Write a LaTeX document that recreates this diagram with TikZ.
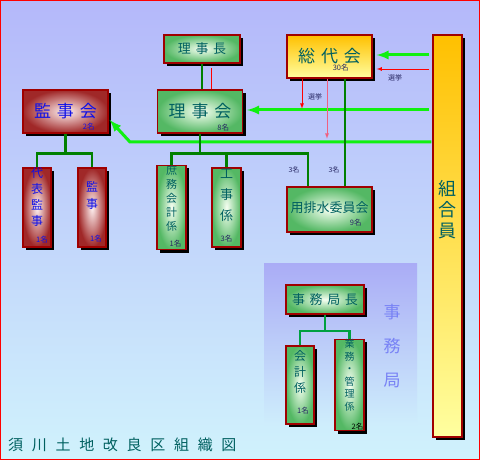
\documentclass[tikz,border=0pt]{standalone}
\usepackage{fontspec}
\newfontfamily\jp{Noto Sans CJK JP}
\usetikzlibrary{calc, arrows, shadows}

\definecolor{bgtop}{RGB}{180,184,250}
\definecolor{bgmid}{RGB}{196,212,250}
\definecolor{bgbot}{RGB}{208,242,252}
\definecolor{panel}{RGB}{170,172,246}
\definecolor{boxrim}{RGB}{160,0,0}
\definecolor{grnout}{RGB}{84,184,100}
\definecolor{grnin}{RGB}{246,255,242}
\definecolor{redout}{RGB}{160,40,40}
\definecolor{redin}{RGB}{255,242,242}
\definecolor{yeltop}{RGB}{255,192,0}
\definecolor{yelbot}{RGB}{255,255,160}
\definecolor{tealtxt}{RGB}{0,96,96}
\definecolor{bluetxt}{RGB}{16,16,230}
\definecolor{navytxt}{RGB}{40,40,100}
\definecolor{darkline}{RGB}{0,128,0}
\definecolor{brightline}{RGB}{16,240,16}
\definecolor{pinkline}{RGB}{240,96,128}
\definecolor{kyokutxt}{RGB}{120,130,245}
\definecolor{kyokuline}{RGB}{0,160,64}

\newcommand{\gp}{\hspace{.35em}}

\tikzset{
  box/.style={draw=boxrim, line width=1.4pt, inner sep=0pt,
    drop shadow={shadow xshift=3pt, shadow yshift=-3pt, fill=black, opacity=1}},
  grnbox/.style={box, inner color=grnin, outer color=grnout, text=tealtxt},
  redbox/.style={box, inner color=redin, outer color=redout, text=bluetxt},
  yelbox/.style={box, top color=yeltop, bottom color=yelbot, text=tealtxt},
  widebox/.style={minimum width=85pt, minimum height=43pt, font=\fontsize{17}{17}\jp},
  tallbox/.style={minimum width=28pt, minimum height=79pt, align=center},
  count/.style={font=\fontsize{7.5}{7.5}\jp, inner sep=0pt},
  note/.style={font=\fontsize{7}{7}\jp, text=navytxt, inner sep=0pt},
  dkline/.style={draw=darkline, line width=2.4pt},
  brline/.style={draw=brightline, line width=3pt, >=latex},
  rdline/.style={draw=red, line width=.8pt, >=latex}
}

\begin{document}
\begin{tikzpicture}[x=1pt,y=-1pt]
    \useasboundingbox (0,0) rectangle (480,460);
    \shade[top color=bgtop, middle color=bgmid, bottom color=bgbot] (0,0) rectangle (480,460);
    \shade[top color=panel, bottom color=bgbot!85!bgmid] (264,263) rectangle (417,425);

    % upper boxes
    \node [grnbox, minimum width=76pt, minimum height=28pt, font=\fontsize{13}{13}\jp]
        (rijicho) at (202,49) {理\gp 事\gp 長};
    \node [yelbox, widebox] (sodai) at (329.5,56.5) {\raisebox{3pt}{総\gp 代\gp 会}};
    \node [redbox, widebox] (kansakai) at (65.5,111.5) {\raisebox{2pt}{監\gp 事\gp 会}};
    \node [grnbox, widebox] (rijikai) at (200,111.5) {\raisebox{2pt}{理\gp 事\gp 会}};
    \node [yelbox, minimum width=29pt, minimum height=402pt] (kumiai) at (447.5,236) {};
    \node [font=\fontsize{18}{21}\jp, text=tealtxt, align=center, inner sep=0pt]
        (kumiai-t) at (447.5,210) {組\\合\\員};

    % lower boxes
    \node [redbox, tallbox, font=\fontsize{12}{16}\jp] (daihyo) at (37,207.5) {代\\表\\監\\事\\[5pt]};
    \node [redbox, tallbox, font=\fontsize{12}{17}\jp] (kanji) at (92,207.5) {監\\事\\[8pt]};
    \node [grnbox, tallbox, minimum width=29pt, font=\fontsize{11}{14}\jp]
        (shomu) at (171.5,207.5) {庶\\務\\会\\計\\係\\[5pt]};
    \node [grnbox, tallbox, minimum width=29pt, font=\fontsize{13}{21}\jp]
        (koji) at (226.5,207.5) {工\\事\\係\\[4pt]};
    \node [grnbox, minimum width=85pt, minimum height=45pt, font=\fontsize{13}{13}\jp]
        (yohaisui) at (329.5,209.5) {\raisebox{4pt}{用排水委員会}};

    % counts
    \node [count, text=navytxt] (sodai-n) at ($(sodai.south east)+(-32,-11)$) {30名};
    \node [count, text=bluetxt] (kansakai-n) at ($(kansakai.south east)+(-20,-7)$) {2名};
    \node [count, text=navytxt] (rijikai-n) at ($(rijikai.south east)+(-20,-6)$) {8名};
    \node [count, text=navytxt] (yohaisui-n) at ($(yohaisui.south east)+(-17,-10)$) {9名};
    \node [count, text=bluetxt] (daihyo-n) at ($(daihyo.south)+(5,-8)$) {1名};
    \node [count, text=bluetxt] (kanji-n) at ($(kanji.south)+(4,-9)$) {1名};
    \node [count, text=navytxt] (shomu-n) at ($(shomu.south)+(4,-7)$) {1名};
    \node [count, text=navytxt] (koji-n) at ($(koji.south)+(0,-9)$) {3名};

    % bright lines from kumiai
    \coordinate (bend) at (130,142);
    \draw [brline, ->] ([xshift=-3pt,yshift=1.5pt]kumiai.west |- sodai.east)
        -- ([xshift=4pt,yshift=1.5pt]sodai.east);
    \draw [brline, ->] ([xshift=-3pt,yshift=1.5pt]kumiai.west |- rijikai.east)
        -- ([xshift=4pt,yshift=1.5pt]rijikai.east);
    \draw [brline, ->] ([xshift=-1pt]kumiai.west |- bend) -- (bend)
        -- ([xshift=1pt,yshift=-8.5pt]kansakai.east);

    % red lines
    \coordinate (senkyo1) at ($(sodai.south)+(-27.5,30)$);
    \coordinate (senkyo2) at ($(sodai.south)+(-2.5,60)$);
    \draw [rdline, ->] ([xshift=-3pt,yshift=-12.5pt]kumiai.west |- sodai.east)
        -- ([xshift=4pt,yshift=-12.5pt]sodai.east);
    \draw [rdline, ->] ([xshift=-27.5pt]sodai.south) -- (senkyo1);
    \draw [rdline, draw=pinkline, ->] ([xshift=-2.5pt]sodai.south) -- (senkyo2);
    \draw [rdline] ([xshift=11pt]rijikai.north) -- ([xshift=11pt,yshift=-4pt]rijikai.north |- rijicho.south);
    \node [note] (senkyo-a) at (395,78) {選挙};
    \node [note] (senkyo-b) at (315,97) {選挙};

    % dark lines
    \coordinate (kj-br) at ($(kansakai.south)+(0,20)$);
    \coordinate (rj-br) at ($(rijikai.south)+(0,20)$);
    \draw [dkline] (rijicho.south) -- (rijicho.south |- rijikai.north);
    \draw [dkline] (kansakai.south) -- (kj-br);
    \draw [dkline] (daihyo.north) |- (kj-br) -| (kanji.north);
    \draw [dkline] (rijikai.south) -- (rj-br);
    \draw [dkline] (shomu.north) |- (rj-br) -| ([xshift=-21.5pt]yohaisui.north);
    \draw [dkline] (koji.north) -- (koji.north |- rj-br);
    \draw [dkline] ([xshift=15.5pt]sodai.south) -- ([xshift=15.5pt]sodai.south |- yohaisui.north);
    \node [note] (three-a) at (294,170) {3名};
    \node [note] (three-b) at (334,170) {3名};

    % jimukyoku
    \node [grnbox, minimum width=78pt, minimum height=29pt, font=\fontsize{13}{13}\jp]
        (kyokucho) at (325,299.5) {事\gp 務\gp 局\gp 長};
    \node [grnbox, tallbox, minimum height=78pt, font=\fontsize{12}{16}\jp]
        (kaikei) at (300,385) {会\\計\\係\\[12pt]};
    \node [grnbox, tallbox, minimum width=29pt, minimum height=78pt, font=\fontsize{10}{12.5}\jp]
        (gyomu) at (349.5,385) {業\\務\\・\\管\\理\\係\\[8pt]};
    \node [count, text=navytxt] (kaikei-n) at ($(kaikei.south)+(3,-14)$) {1名};
    \node [count, text=black] (gyomu-n) at ($(gyomu.south)+(8,-5)$) {2名};
    \coordinate (jm-br) at ($(kyokucho.south)+(0,16)$);
    \draw [draw=kyokuline, line width=2.4pt] (kyokucho.south) -- (jm-br);
    \draw [draw=kyokuline, line width=2.4pt] (kaikei.north) |- (jm-br) -| (gyomu.north);
    \node [font=\fontsize{17}{34}\jp, text=kyokutxt, align=center, inner sep=0pt]
        (kyoku) at (392,346) {事\\務\\局};

    % title
    \node [font=\fontsize{15}{15}\jp, text=tealtxt, anchor=west, inner sep=0pt]
        (title) at (8,445) {須\hspace{.58em}川\hspace{.58em}土\hspace{.58em}地\hspace{.58em}改\hspace{.58em}良\hspace{.58em}区\hspace{.58em}組\hspace{.58em}織\hspace{.58em}図};

    \draw [red, line width=1pt] (0.5,0.5) rectangle (479.5,459.5);
\end{tikzpicture}
\end{document}
